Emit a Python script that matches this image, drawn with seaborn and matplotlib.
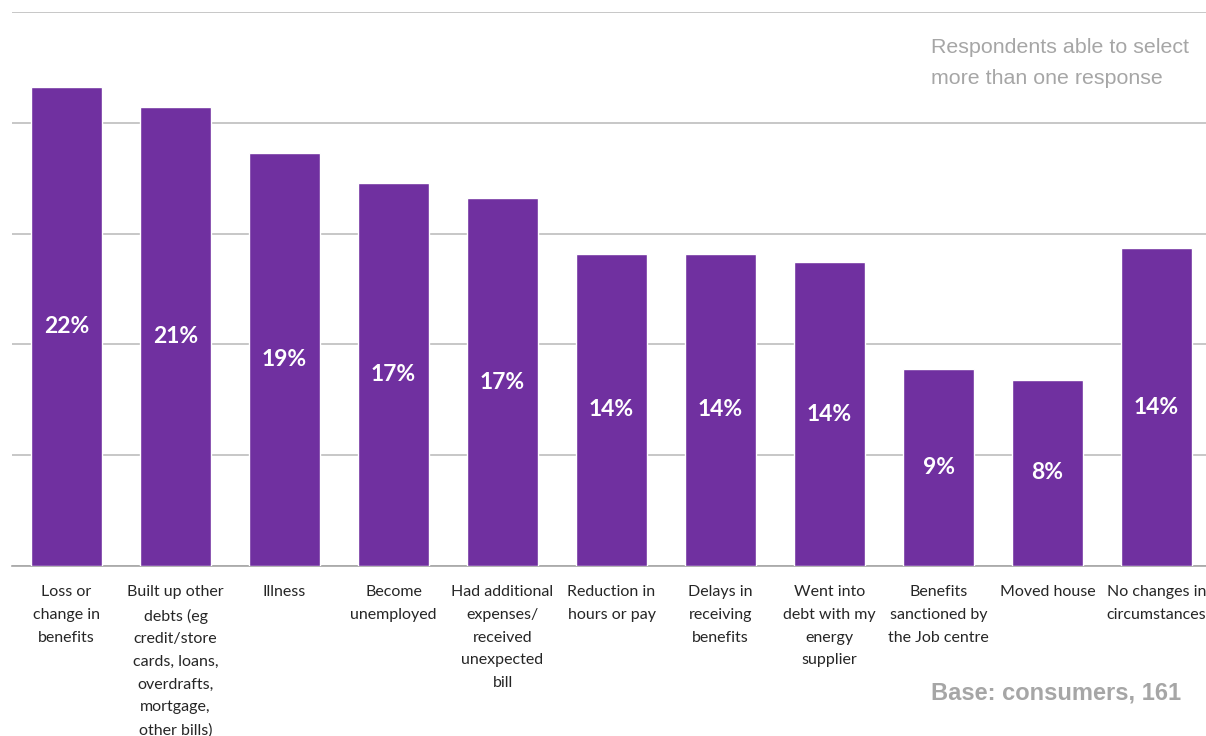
import matplotlib
matplotlib.use("Agg")
import matplotlib.pyplot as plt
import seaborn as sns
import pandas as pd
import numpy as np

categories = [
    "Loss or\nchange in\nbenefits",
    "Built up other\ndebts (eg\ncredit/store\ncards, loans,\noverdrafts,\nmortgage,\nother bills)",
    "Illness",
    "Become\nunemployed",
    "Had additional\nexpenses/\nreceived\nunexpected\nbill",
    "Reduction in\nhours or pay",
    "Delays in\nreceiving\nbenefits",
    "Went into\ndebt with my\nenergy\nsupplier",
    "Benefits\nsanctioned by\nthe Job centre",
    "Moved house",
    "No changes in\ncircumstances",
]
values = [21.6, 20.7, 18.65, 17.3, 16.6, 14.1, 14.1, 13.7, 8.9, 8.4, 14.35]
value_labels = ["22%", "21%", "19%", "17%", "17%", "14%", "14%", "14%", "9%", "8%", "14%"]
y_ticks = [0, 5, 10, 15, 20, 25]

sns.set_style("white")
plt.rcParams["font.family"] = ["Lato", "DejaVu Sans"]

df = pd.DataFrame({"category": categories, "value": values})

fig = plt.figure(figsize=(12.06, 7.36), dpi=100)
ax = fig.add_axes([12 / 1206, 1 - 566 / 736, 1199 / 1206, (566 - 12) / 736])

sns.barplot(data=df, x="category", y="value", color="#7030A0", saturation=1,
            width=0.66, ax=ax, zorder=3)

ax.set_ylim(0, 25)
ax.set_xlim(-0.5, len(categories) - 0.5)
ax.set_yticks(y_ticks)
ax.set_yticklabels([])
ax.tick_params(axis="y", length=0)
ax.yaxis.grid(True, color="#BEBEBE", linewidth=1.2, zorder=0)
ax.set_axisbelow(True)
for s in ["top", "right", "left"]:
    ax.spines[s].set_visible(False)
ax.spines["bottom"].set_color("#A6A6A6")
ax.spines["bottom"].set_linewidth(1.2)

ax.set_xlabel("")
ax.set_ylabel("")
ax.set_xticks(np.arange(len(categories)))
ax.set_xticklabels(categories, linespacing=1.78, va="top", fontsize=11.5, color="#262626")
ax.tick_params(axis="x", which="major", length=0, pad=14)
ax.set_xticks(np.arange(len(categories) + 1) - 0.5, minor=True)
ax.tick_params(axis="x", which="minor", length=5, color="#A6A6A6", width=1.2)

for i, (v, lab) in enumerate(zip(values, value_labels)):
    ax.text(i, v / 2, lab, ha="center", va="center", color="white",
            fontsize=16.5, fontweight="bold")

fig.text(931 / 1206, 1 - 63 / 736, "Respondents able to select\nmore than one response",
         ha="left", va="center", color="#A6A6A6", fontsize=15.4,
         family=["Liberation Sans", "DejaVu Sans"], linespacing=1.78)
fig.text(931 / 1206, 1 - 693 / 736, "Base: consumers, 161", ha="left", va="center",
         color="#A6A6A6", fontsize=17, fontweight="bold",
         family=["Liberation Sans", "DejaVu Sans"])

fig.savefig("out.png", dpi=100)
